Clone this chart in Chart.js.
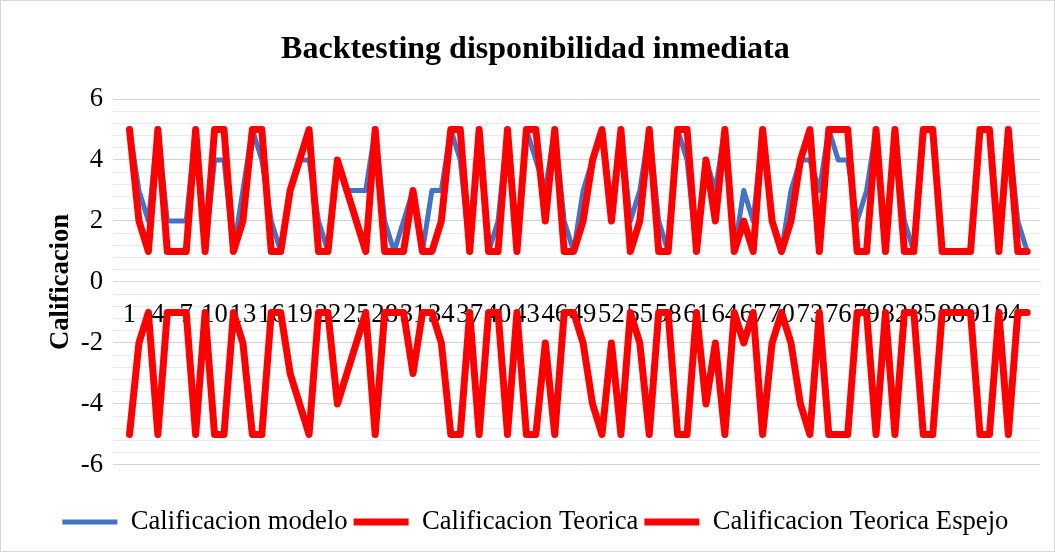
<!DOCTYPE html>
<html><head><meta charset="utf-8">
<script src="https://cdn.jsdelivr.net/npm/chart.js@4.4.1/dist/chart.umd.min.js"></script>
<style>
html,body{margin:0;padding:0;background:#fff;}
#wrap{position:relative;width:1055px;height:552px;}
#frame{position:absolute;left:0;top:0;width:1055px;height:552px;box-sizing:border-box;border:1px solid #d9d9d9;pointer-events:none;}
canvas{position:absolute;left:0;top:0;}
</style></head><body>
<div id="wrap"><canvas id="c" width="1055" height="552"></canvas><div id="frame"></div></div>
<script>
const categories = [1,2,3,4,5,6,7,8,9,10,11,12,13,14,15,16,17,18,19,20,21,22,23,24,25,26,27,28,29,30,31,32,33,34,35,36,37,38,39,40,41,42,43,44,45,46,47,48,49,50,51,52,53,54,55,56,57,58,59,60,61,62,63,64,65,66,67,68,69,70,71,72,73,74,75,76,77,78,79,80,81,82,83,84,85,86,87,88,89,90,91,92,93,94,95,96];
const xTickLabels = [1,4,7,10,13,16,19,22,25,28,31,34,37,40,43,46,49,52,55,58,61,64,67,70,73,76,79,82,85,88,91,94];
const yTickLabels = [-6,-4,-2,0,2,4,6];
const calificacionModelo = [5,3,2,5,2,2,2,5,1,4,4,1,3,5,4,2,1,3,4,4,2,1,4,3,3,3,5,2,1,2,3,1,3,3,5,4,1,5,1,2,5,1,5,4,3,5,2,1,3,4,5,2,5,2,3,5,2,1,5,4,1,4,3,5,1,3,2,5,2,1,3,4,4,3,5,4,4,2,3,5,1,5,2,1,5,5,1,1,1,1,5,5,1,5,2,1];
const calificacionTeorica = [5,2,1,5,1,1,1,5,1,5,5,1,2,5,5,1,1,3,4,5,1,1,4,3,2,1,5,1,1,1,3,1,1,2,5,5,1,5,1,1,5,1,5,5,2,5,1,1,2,4,5,2,5,1,2,5,1,1,5,5,1,4,2,5,1,2,1,5,2,1,2,4,5,1,5,5,5,1,1,5,1,5,1,1,5,5,1,1,1,1,5,5,1,5,1,1];
const calificacionTeoricaEspejo = [-5,-2,-1,-5,-1,-1,-1,-5,-1,-5,-5,-1,-2,-5,-5,-1,-1,-3,-4,-5,-1,-1,-4,-3,-2,-1,-5,-1,-1,-1,-3,-1,-1,-2,-5,-5,-1,-5,-1,-1,-5,-1,-5,-5,-2,-5,-1,-1,-2,-4,-5,-2,-5,-1,-2,-5,-1,-1,-5,-5,-1,-4,-2,-5,-1,-2,-1,-5,-2,-1,-2,-4,-5,-1,-5,-5,-5,-1,-1,-5,-1,-5,-1,-1,-5,-5,-1,-1,-1,-1,-5,-5,-1,-5,-1,-1];

const FAM = "'Liberation Serif','Times New Roman',serif";
const pts = arr => categories.map((c, i) => ({x: c, y: arr[i]}));
const isMajor = v => yTickLabels.some(t => Math.abs(t - v) < 1e-6);

new Chart(document.getElementById('c'), {
  type: 'line',
  data: {
    datasets: [
      {label: 'Calificacion modelo', data: pts(calificacionModelo), borderColor: '#4472C4', backgroundColor: '#4472C4', borderWidth: 5, order: 1},
      {label: 'Calificacion Teorica', data: pts(calificacionTeorica), borderColor: '#FF0000', backgroundColor: '#FF0000', borderWidth: 7, order: 0},
      {label: 'Calificacion Teorica Espejo', data: pts(calificacionTeoricaEspejo), borderColor: '#FF0000', backgroundColor: '#FF0000', borderWidth: 7, order: 0}
    ]
  },
  options: {
    responsive: false,
    animation: false,
    devicePixelRatio: 1,
    elements: {
      point: {radius: 0, hoverRadius: 0},
      line: {tension: 0, borderJoinStyle: 'round', borderCapStyle: 'round', fill: false}
    },
    layout: {padding: {left: 30.8, right: 15, top: 0, bottom: 6.7}},
    plugins: {
      tooltip: {enabled: false},
      title: {
        display: true, text: 'Backtesting disponibilidad inmediata', color: '#000',
        font: {family: FAM, size: 32, weight: 'bold'}, padding: {top: 31, bottom: 29.6}
      },
      legend: {
        position: 'bottom',
        title: {display: true, text: '', font: {size: 1}, padding: {top: 36.5, bottom: 0}},
        labels: {
          sort: (a, b) => a.datasetIndex - b.datasetIndex,
          usePointStyle: true, pointStyle: 'line', pointStyleWidth: 55,
          color: '#000', font: {family: FAM, size: 26.67}, padding: 6
        }
      }
    },
    scales: {
      x: {
        type: 'linear', position: {y: 0}, min: -0.746, max: 97.35,
        afterBuildTicks: s => { s.ticks = xTickLabels.map(v => ({value: v})); },
        ticks: {autoSkip: false, maxRotation: 0, minRotation: 0, padding: 17, color: '#000', font: {family: FAM, size: 26.67}},
        grid: {display: false, drawTicks: false},
        border: {display: true, color: '#d9d9d9', width: 1}
      },
      y: {
        type: 'linear', min: -6, max: 6,
        ticks: {stepSize: 0.4, autoSkip: false, maxTicksLimit: 100, padding: 10, color: '#000', font: {family: FAM, size: 26.67},
          callback: v => isMajor(v) ? String(Math.round(v)) : ''},
        grid: {color: c => isMajor(c.tick.value) ? '#d4d4d4' : '#eaeaea', drawTicks: false, lineWidth: 1},
        border: {display: false},
        title: {display: true, text: 'Calificacion', color: '#000', font: {family: FAM, size: 26.67, weight: 'bold'}, padding: {top: 14, bottom: -6}}
      }
    }
  }
});
</script>
</body></html>
